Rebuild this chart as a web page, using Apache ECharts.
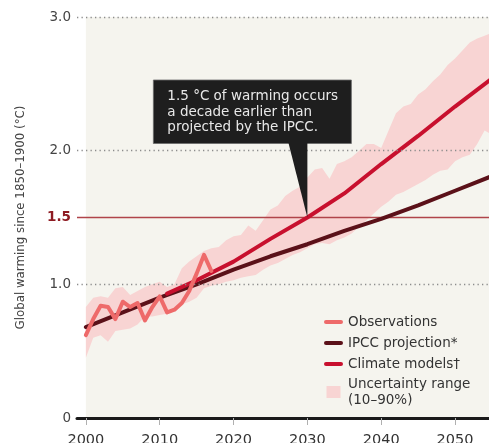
<!DOCTYPE html>
<html>
<head>
<meta charset="utf-8">
<script src="https://cdn.jsdelivr.net/npm/echarts@6/dist/echarts.min.js"></script>
<style>
html,body{margin:0;padding:0;background:#ffffff;}
#chart{width:489px;height:443px;}
</style>
</head>
<body>
<div id="chart"></div>
<script>
// ---- Data ----
const obsYears = [2000,2001,2002,2003,2004,2005,2006,2007,2008,2009,2010,2011,2012,2013,2014,2015,2016,2017];
const obsValues = [0.62,0.74,0.84,0.83,0.74,0.87,0.83,0.86,0.73,0.83,0.91,0.79,0.81,0.86,0.95,1.08,1.22,1.10];

const ipccYears = [2000,2005,2010,2015,2020,2025,2030,2035,2040,2045,2050,2055];
const ipccValues = [0.68,0.79,0.90,1.00,1.11,1.21,1.30,1.40,1.49,1.59,1.70,1.81];

const modelYears = [2011,2015,2020,2025,2030,2035,2040,2045,2050,2055];
const modelValues = [0.93,1.03,1.17,1.34,1.50,1.68,1.90,2.11,2.33,2.54];

const bandYears = [2000,2001,2002,2003,2004,2005,2006,2007,2008,2009,2010,2011,2012,2013,2014,2015,2016,2017,2018,2019,2020,2021,2022,2023,2024,2025,2026,2027,2028,2029,2030,2031,2032,2033,2034,2035,2036,2037,2038,2039,2040,2041,2042,2043,2044,2045,2046,2047,2048,2049,2050,2051,2052,2053,2054,2055];
const bandLower = [0.45,0.60,0.62,0.57,0.65,0.66,0.67,0.70,0.76,0.76,0.77,0.78,0.82,0.85,0.87,0.90,0.97,0.99,1.00,1.02,1.03,1.05,1.06,1.07,1.11,1.14,1.16,1.19,1.22,1.24,1.27,1.30,1.31,1.30,1.33,1.35,1.38,1.43,1.48,1.53,1.58,1.62,1.67,1.69,1.72,1.75,1.78,1.82,1.85,1.86,1.92,1.95,1.97,2.05,2.15,2.12];
const bandUpper = [0.83,0.90,0.91,0.90,0.97,0.98,0.92,0.95,0.98,1.00,1.02,0.98,1.00,1.12,1.17,1.21,1.25,1.27,1.28,1.33,1.36,1.37,1.44,1.40,1.48,1.56,1.59,1.66,1.70,1.73,1.80,1.86,1.87,1.79,1.90,1.92,1.95,2.00,2.05,2.05,2.02,2.15,2.28,2.33,2.35,2.42,2.46,2.52,2.57,2.64,2.69,2.75,2.81,2.84,2.86,2.88];

const xTickValues = [2000,2010,2020,2030,2040,2050];
const yTickValues = [0,1,1.5,2,3];
const yTickLabels = ['0','1.0','1.5','2.0','3.0'];
const gridLineValues = [1,2,3];
const thresholdValue = 1.5;
const thresholdYear = 2030;

const seriesNames = ['Observations','IPCC projection*','Climate models\u2020','Uncertainty range\n(10\u201390%)'];
const annotationLines = ['1.5 \u00b0C of warming occurs','a decade earlier than','projected by the IPCC.'];

// ---- Chart ----
const FONT = 'DejaVu Sans';
const COL_OBS = '#EE6A6A';
const COL_IPCC = '#5B1119';
const COL_MODEL = '#C8102E';
const COL_BAND = '#F8D4D3';
const COL_BG = '#F5F4EE';
const COL_THRESH = '#B0444A';

const chart = echarts.init(document.getElementById('chart'), null, {renderer:'canvas'});

const pair = (xs, ys) => xs.map((x,i)=>[x, ys[i]]);
const lineIcon = 'path://M2,0 L17,0 A2,2 0 0 1 17,4 L2,4 A2,2 0 0 1 2,0 Z';
const squareIcon = 'path://M0,0 L14,0 L14,12 L0,12 Z';

const X_MIN = 1998.8, X_MAX = 2054.6, Y_MIN = 0, Y_MAX = 3;

const option = {
  animation: false,
  textStyle: {fontFamily: FONT},
  grid: {left: 77, right: 0, top: 17, bottom: 25, containLabel: false, outerBoundsMode: 'none'},
  xAxis: {
    type: 'value', min: X_MIN, max: X_MAX, z: 3,
    axisLine: {show: true, onZero: false, lineStyle: {color: '#1a1a1a', width: 3}},
    axisTick: {show: true, customValues: xTickValues, length: 7, lineStyle: {color: '#b0b0b0', width: 1}},
    axisLabel: {customValues: xTickValues, fontSize: 14.5, color: '#333', margin: 15, fontFamily: FONT,
      formatter: v => String(v)},
    splitLine: {show: false}
  },
  yAxis: {
    type: 'value', min: Y_MIN, max: Y_MAX,
    name: 'Global warming since 1850\u20131900 (\u00b0C)',
    nameLocation: 'middle', nameGap: 50,
    nameTextStyle: {fontSize: 11.8, color: '#444', fontFamily: FONT},
    axisLine: {show: false}, axisTick: {show: false},
    axisLabel: {
      customValues: yTickValues, fontSize: 13.5, color: '#444', margin: 6, fontFamily: FONT,
      formatter: v => {
        const i = yTickValues.indexOf(v);
        const t = i >= 0 ? yTickLabels[i] : '';
        return v === thresholdValue ? '{r|' + t + '}' : t;
      },
      rich: {r: {fontWeight: 'bold', color: '#8E1B22', fontSize: 13.5, fontFamily: FONT}}
    },
    splitLine: {show: false}
  },
  legend: {
    orient: 'vertical', left: 324, top: 314, padding: 0,
    itemWidth: 19, itemHeight: 12, itemGap: 5, itemTextGap: 8,
    selectedMode: false,
    textStyle: {fontSize: 13.5, color: '#333', lineHeight: 16, fontFamily: FONT},
    data: [
      {name: seriesNames[0], icon: lineIcon},
      {name: seriesNames[1], icon: lineIcon},
      {name: seriesNames[2], icon: lineIcon},
      {name: seriesNames[3], icon: squareIcon, textStyle: {height: 16}}
    ]
  },
  series: [
    {
      name: '_background', type: 'custom', z: -1, silent: true,
      data: [[bandYears[0], Y_MAX]],
      renderItem: (params, api) => {
        const a = api.coord([bandYears[0], Y_MAX]);
        const b = api.coord([X_MAX, Y_MIN]);
        return {type: 'rect', shape: {x: a[0], y: a[1], width: b[0] - a[0], height: b[1] - a[1]}, style: {fill: COL_BG}};
      }
    },
    {
      name: seriesNames[3], type: 'custom', z: 1, silent: true,
      itemStyle: {color: COL_BAND},
      data: [[bandYears[0], bandLower[0]]],
      renderItem: (params, api) => {
        const up = bandYears.map((y,i) => api.coord([y, bandUpper[i]]));
        const lo = bandYears.map((y,i) => api.coord([y, bandLower[i]])).reverse();
        return {type: 'polygon', shape: {points: up.concat(lo)}, style: {fill: COL_BAND}};
      },
      markLine: {
        silent: true, symbol: 'none', label: {show: false},
        lineStyle: {color: '#8c8c8c', width: 1.3, type: [1.3, 3.2]},
        data: gridLineValues.map(v => ({yAxis: v}))
      }
    },
    {
      name: seriesNames[1], type: 'line', symbol: 'none', z: 3,
      itemStyle: {color: COL_IPCC}, lineStyle: {color: COL_IPCC, width: 4, cap: 'round', join: 'round'},
      data: pair(ipccYears, ipccValues),
      markLine: {
        silent: true, symbol: 'none', label: {show: false}, z: 2,
        lineStyle: {color: COL_THRESH, width: 1.3, type: 'solid', opacity: 1},
        emphasis: {disabled: true},
        data: [{yAxis: thresholdValue}]
      }
    },
    {
      name: seriesNames[2], type: 'line', symbol: 'none', z: 4,
      itemStyle: {color: COL_MODEL}, lineStyle: {color: COL_MODEL, width: 4, cap: 'round', join: 'round'},
      data: pair(modelYears, modelValues)
    },
    {
      name: seriesNames[0], type: 'line', symbol: 'none', z: 5,
      itemStyle: {color: COL_OBS}, lineStyle: {color: COL_OBS, width: 4, cap: 'round', join: 'round'},
      data: pair(obsYears, obsValues)
    }
  ]
};
chart.setOption(option);

// annotation, positioned through the axes
const ap = chart.convertToPixel({gridIndex: 0}, [thresholdYear, thresholdValue]);
const boxL = ap[0] - 154, boxR = ap[0] + 44, boxT = ap[1] - 137.5, boxB = ap[1] - 74;
chart.setOption({
  graphic: [
    {type: 'rect', z: 100, silent: true, shape: {x: boxL, y: boxT, width: boxR - boxL, height: boxB - boxT}, style: {fill: '#1E1E1E', stroke: '#6a6a6a', lineWidth: 0.8}},
    {type: 'polygon', z: 101, silent: true, shape: {points: [[ap[0] - 19, boxB - 1], [ap[0], boxB - 1], [ap[0], ap[1]]]}, style: {fill: '#1E1E1E'}},
    {type: 'text', z: 102, silent: true, x: boxL + 14, y: boxT + 9,
      style: {text: annotationLines.join('\n'), fill: '#E8E8E8', font: '13.5px "DejaVu Sans"', lineHeight: 15.5, verticalAlign: 'top'}}
  ]
});
</script>
</body>
</html>
